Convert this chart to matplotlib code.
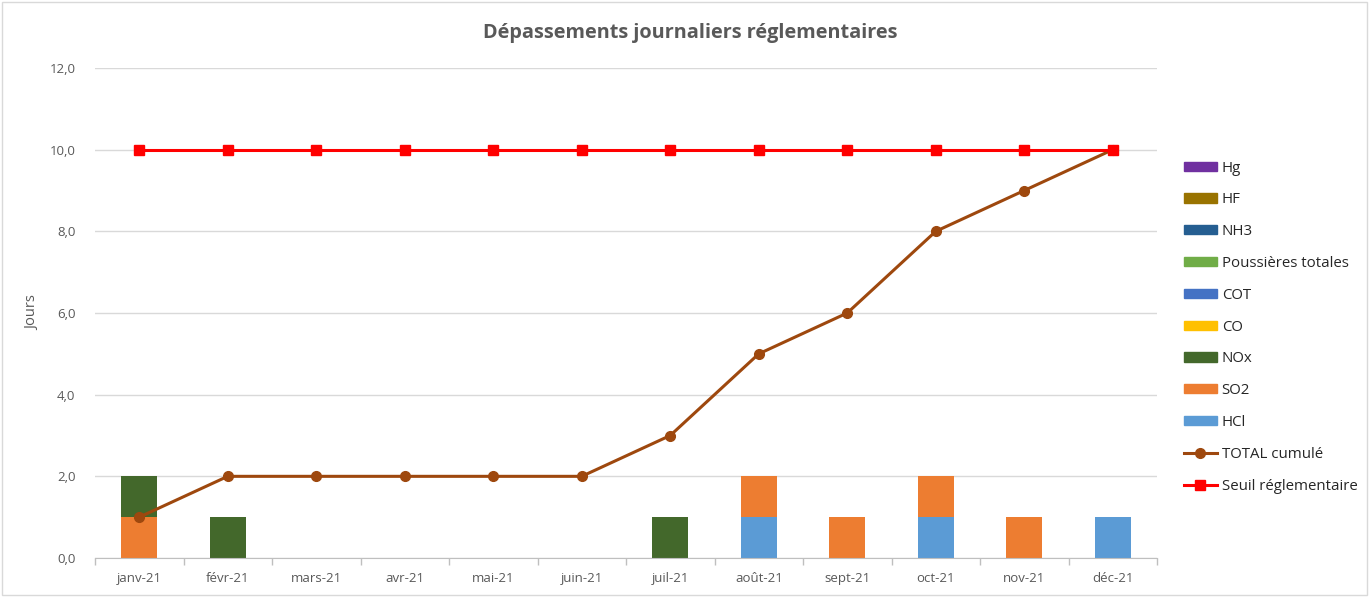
import matplotlib
matplotlib.use("Agg")
import matplotlib.pyplot as plt
import numpy as np
from matplotlib.patches import Patch
from matplotlib.lines import Line2D

plt.rcParams['font.family'] = ['Open Sans', 'DejaVu Sans']

months = ["janv-21", "févr-21", "mars-21", "avr-21", "mai-21", "juin-21",
          "juil-21", "août-21", "sept-21", "oct-21", "nov-21", "déc-21"]
HCl = [0, 0, 0, 0, 0, 0, 0, 1, 0, 1, 0, 1]
SO2 = [1, 0, 0, 0, 0, 0, 0, 1, 1, 1, 1, 0]
NOx = [1, 1, 0, 0, 0, 0, 1, 0, 0, 0, 0, 0]
CO = [0] * 12
COT = [0] * 12
Poussieres = [0] * 12
NH3 = [0] * 12
HF = [0] * 12
Hg = [0] * 12
total_cumule = [1, 2, 2, 2, 2, 2, 3, 5, 6, 8, 9, 10]
seuil = [10] * 12

series = [("HCl", HCl, "#5B9BD5"), ("SO2", SO2, "#ED7D31"), ("NOx", NOx, "#43682B"),
          ("CO", CO, "#FFC000"), ("COT", COT, "#4472C4"),
          ("Poussières totales", Poussieres, "#70AD47"), ("NH3", NH3, "#255E91"),
          ("HF", HF, "#997300"), ("Hg", Hg, "#7030A0")]

fig = plt.figure(figsize=(13.69, 5.97), dpi=100)
ax = fig.add_axes([95 / 1369, 1 - 558 / 597, (1157 - 95) / 1369, (558 - 68) / 597])

x = np.arange(len(months))
bottom = np.zeros(len(months))
for name, vals, col in series:
    v = np.array(vals, dtype=float)
    ax.bar(x, v, 0.41, bottom=bottom, color=col, zorder=2)
    bottom += v

ax.plot(x, total_cumule, color="#9E480E", lw=2.2, marker="o", ms=7, zorder=4)
ax.plot(x, seuil, color="#FF0000", lw=2.2, marker="s", ms=6.5, zorder=4)

ax.set_xlim(-0.5, 11.5)
ax.set_ylim(0, 12)
ax.set_yticks(np.arange(0, 13, 2))
ax.set_yticklabels([f"{v:.1f}".replace(".", ",") for v in np.arange(0, 13, 2)])
ax.set_xticks(x)
ax.set_xticklabels(months)
ax.set_xticks(np.arange(-0.5, 12, 1), minor=True)
ax.tick_params(axis="x", which="major", length=0, pad=10, labelsize=9.5, labelcolor="#595959")
ax.tick_params(axis="x", which="minor", length=5, color="#BFBFBF", width=1)
ax.tick_params(axis="y", length=0, pad=14, labelsize=9.5, labelcolor="#595959")
ax.grid(axis="y", color="#D9D9D9", lw=1, zorder=0)
ax.set_axisbelow(True)
for s in ["left", "right", "top"]:
    ax.spines[s].set_visible(False)
ax.spines["bottom"].set_color("#BFBFBF")
ax.set_ylabel("Jours", fontsize=10.5, color="#595959")
ax.yaxis.set_label_coords(-55 / 1062, 0.5)

fig.text(690 / 1369, 1 - 33 / 597, "Dépassements journaliers réglementaires",
         ha="center", va="center", fontsize=14.3, fontweight="bold", color="#595959")

handles = [Patch(color=col, label=name) for name, vals, col in reversed(series)]
handles.append(Line2D([0], [0], color="#9E480E", lw=2.2, marker="o", ms=7, label="TOTAL cumulé"))
handles.append(Line2D([0], [0], color="#FF0000", lw=2.2, marker="s", ms=6.5, label="Seuil réglementaire"))
leg = fig.legend(handles=handles, loc="upper left", bbox_to_anchor=(1170 / 1369, 1 - 147 / 597),
                 frameon=False, fontsize=10.8, labelspacing=1.12, handlelength=2.2,
                 handleheight=0.55, handletextpad=0.35)
for t in leg.get_texts():
    t.set_color("#262626")

fig.patches.append(matplotlib.patches.Rectangle((2 / 1369, 2 / 597), 1 - 4 / 1369, 1 - 4 / 597,
                                                transform=fig.transFigure, fill=False,
                                                edgecolor="#D9D9D9", lw=1))
fig.savefig("out.png", dpi=100)
